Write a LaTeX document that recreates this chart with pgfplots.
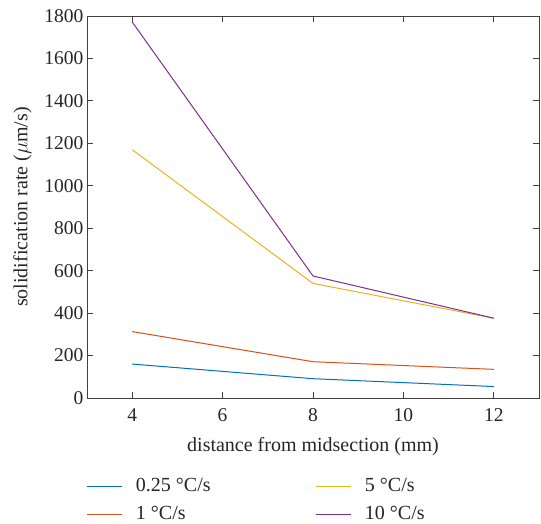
\documentclass[border=0pt]{standalone}
\usepackage{pgfplots}
\pgfplotsset{compat=1.18}
\usepackage{fontspec}
\setmainfont{Liberation Serif}
\definecolor{mblue}{rgb}{0,0.447,0.741}
\definecolor{morange}{rgb}{0.85,0.325,0.098}
\definecolor{myellow}{rgb}{0.929,0.694,0.125}
\definecolor{mpurple}{rgb}{0.494,0.184,0.556}
\begin{document}
\begin{tikzpicture}
\begin{axis}[
  scale only axis,
  width=452pt, height=382pt,
  xmin=3, xmax=13, ymin=0, ymax=1800,
  xtick={4,6,8,10,12},
  ytick={0,200,400,600,800,1000,1200,1400,1600,1800},
  tick align=inside,
  major tick length=6pt,
  axis line style={draw=black!75, line width=0.9pt},
  tick style={draw=black!75, line width=0.9pt},
  /pgf/number format/assume math mode=true,
  /pgf/number format/set thousands separator={},
  ticklabel style={font=\fontsize{19.5}{22}\selectfont, text=black!85},
  xticklabel style={yshift=-7pt},
  label style={font=\fontsize{20}{22}\selectfont, text=black!85},
  xlabel={distance from midsection (mm)},
  ylabel={solidification rate ($\mu$m/s)},
  xlabel style={yshift=-9pt},
  ylabel style={yshift=6pt},
  legend columns=2,
  legend cell align=left,
  legend style={draw=none, at={(0,-0.208)}, anchor=north west,
    inner sep=0pt, outer sep=0pt,
    nodes={inner sep=0pt, text height=14pt, text depth=4.5pt},
    font=\fontsize{20}{22}\selectfont, text=black!85,
    column sep=0pt, row sep=9.5pt},
  legend image code/.code={\draw[#1, line width=1pt] (0pt,0pt) -- (35pt,0pt); \path (48pt,0pt);},
  every axis plot/.append style={line width=1pt},
]
\addplot[mblue] coordinates {(4,160) (8,91) (12,54)};
\addlegendentry{\makebox[180pt][l]{0.25 °C/s}}
\addplot[myellow] coordinates {(4,1170) (8,540) (12,376)};
\addlegendentry{5 °C/s}
\addplot[morange] coordinates {(4,313) (8,171) (12,135)};
\addlegendentry{\makebox[180pt][l]{1 °C/s}}
\addplot[mpurple] coordinates {(4,1772) (8,575) (12,376)};
\addlegendentry{10 °C/s}
\end{axis}
\pgfresetboundingbox
\path ([shift={(-87pt,-125pt)}]current axis.south west) rectangle ++(541pt,523pt);
\end{tikzpicture}
\end{document}
